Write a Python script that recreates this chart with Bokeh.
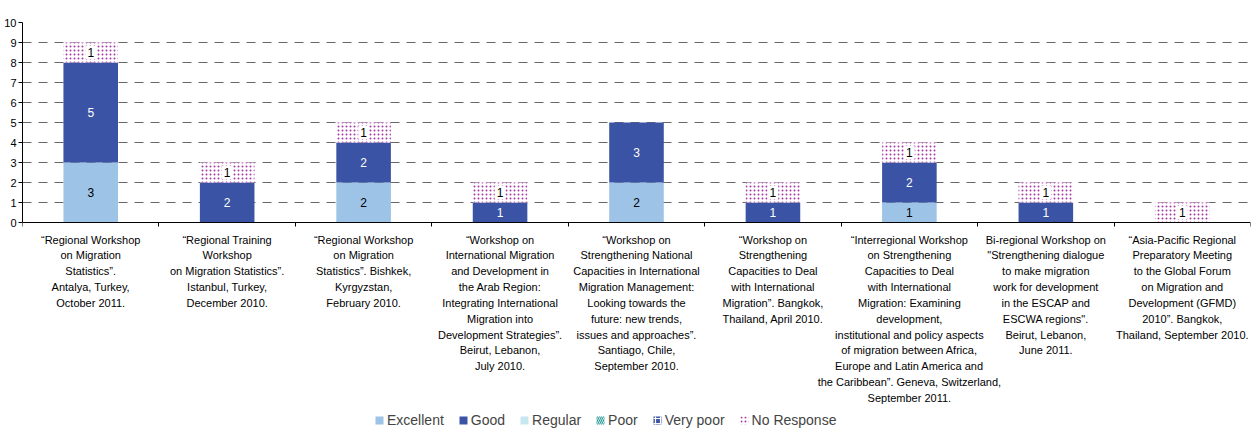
import numpy as np
from bokeh.plotting import figure
from bokeh.models import ColumnDataSource, Range1d, FixedTicker, Legend, LegendItem
from bokeh.core.properties import value
from bokeh.embed import file_html
from bokeh.resources import INLINE

categories = [
    "\u201cRegional Workshop\non Migration\nStatistics\u201d.\nAntalya, Turkey,\nOctober 2011.",
    "\u201cRegional Training\nWorkshop\non Migration Statistics\u201d.\nIstanbul, Turkey,\nDecember 2010.",
    "\u201cRegional Workshop\non Migration\nStatistics\u201d. Bishkek,\nKyrgyzstan,\nFebruary 2010.",
    "\u201cWorkshop on\nInternational Migration\nand Development in\nthe Arab Region:\nIntegrating International\nMigration into\nDevelopment Strategies\u201d.\nBeirut, Lebanon,\nJuly 2010.",
    "\u201cWorkshop on\nStrengthening National\nCapacities in International\nMigration Management:\nLooking towards the\nfuture: new trends,\nissues and approaches\u201d.\nSantiago, Chile,\nSeptember 2010.",
    "\u201cWorkshop on\nStrengthening\nCapacities to Deal\nwith International\nMigration\u201d. Bangkok,\nThailand, April 2010.",
    "\u201cInterregional Workshop\non Strengthening\nCapacities to Deal\nwith International\nMigration: Examining\ndevelopment,\ninstitutional and policy aspects\nof migration between Africa,\nEurope and Latin America and\nthe Caribbean\u201d. Geneva, Switzerland,\nSeptember 2011.",
    "Bi-regional Workshop on\n\"Strengthening dialogue\nto make migration\nwork for development\nin the ESCAP and\nESCWA regions\".\nBeirut, Lebanon,\nJune 2011.",
    "\u201cAsia-Pacific Regional\nPreparatory Meeting\nto the Global Forum\non Migration and\nDevelopment (GFMD)\n2010\u201d. Bangkok,\nThailand, September 2010.",
]
series_names = ["Excellent", "Good", "Regular", "Poor", "Very poor", "No Response"]
excellent = [3, 0, 2, 0, 2, 0, 1, 0, 0]
good = [5, 2, 2, 1, 3, 1, 2, 1, 0]
regular = [0, 0, 0, 0, 0, 0, 0, 0, 0]
poor = [0, 0, 0, 0, 0, 0, 0, 0, 0]
very_poor = [0, 0, 0, 0, 0, 0, 0, 0, 0]
no_response = [1, 1, 1, 1, 0, 1, 1, 1, 1]
y_ticks = [0, 1, 2, 3, 4, 5, 6, 7, 8, 9, 10]

FONT = "Liberation Sans"
n = len(categories)
xs = np.arange(n) + 0.5

styles = [
    dict(fill_color="#9DC3E6", line_color=None),
    dict(fill_color="#3A53A4", line_color=None),
    dict(fill_color="#C6E7F0", line_color=None),
    dict(fill_color="white", line_color=None, hatch_pattern="\\", hatch_color="#2E9A9A", hatch_scale=4, hatch_weight=1.2),
    dict(fill_color="#3A53A4", line_color=None, hatch_pattern="+", hatch_color="white", hatch_scale=5, hatch_weight=1.2),
    dict(fill_color="white", line_color=None, hatch_pattern="dot", hatch_color="#A838A8", hatch_scale=4, hatch_weight=2),
]
text_colors = ["black", "white", "black", "black", "white", "black"]
all_series = [excellent, good, regular, poor, very_poor, no_response]

# frame extends below zero so that the category labels and legend sit inside it
p = figure(frame_width=1228, frame_height=410, x_range=Range1d(0, n), y_range=Range1d(-10.5, 10),
           output_backend="svg", toolbar_location=None,
           min_border_left=22, min_border_right=1, min_border_top=22, min_border_bottom=0)
p.outline_line_color = None
p.background_fill_color = "white"

p.xgrid.visible = False
p.ygrid.ticker = FixedTicker(ticks=y_ticks[1:])
p.ygrid.grid_line_color = "#666666"
p.ygrid.grid_line_dash = "9 7"
p.ygrid.grid_line_width = 1.2

p.yaxis.ticker = FixedTicker(ticks=y_ticks)
p.yaxis.bounds = (0, 10)
p.yaxis.axis_line_color = "black"
p.yaxis.major_tick_line_color = "black"
p.yaxis.major_tick_in = 0
p.yaxis.major_tick_out = 4
p.yaxis.minor_tick_line_color = None
p.yaxis.major_label_text_font = FONT
p.yaxis.major_label_text_font_size = "11px"
p.yaxis.major_label_text_color = "black"
p.yaxis.major_label_standoff = 2

p.xaxis.fixed_location = 0
p.xaxis.ticker = FixedTicker(ticks=list(xs), minor_ticks=list(range(n + 1)))
p.xaxis.major_label_overrides = {float(x): lab for x, lab in zip(xs, categories)}
p.xaxis.axis_line_color = "black"
p.xaxis.major_tick_line_color = None
p.xaxis.minor_tick_line_color = "black"
p.xaxis.minor_tick_in = 0
p.xaxis.minor_tick_out = 4
p.xaxis.major_label_text_font = FONT
p.xaxis.major_label_text_font_size = "11px"
p.xaxis.major_label_text_color = "black"
p.xaxis.major_label_text_line_height = 1.32
p.xaxis.major_label_standoff = 5

bottom = np.zeros(n)
renderers = []
for name, vals, st, tc in zip(series_names, all_series, styles, text_colors):
    vals = np.array(vals, dtype=float)
    top = bottom + vals
    src = ColumnDataSource(dict(x=xs, bottom=bottom.copy(), top=top))
    r = p.vbar(x="x", bottom="bottom", top="top", width=0.4, source=src, **st)
    renderers.append((name, r))
    mask = vals > 0
    tsrc = ColumnDataSource(dict(x=xs[mask], y=(bottom[mask] + top[mask]) / 2,
                                 t=[str(int(v)) for v in vals[mask]]))
    extra = {}
    if name == "No Response":
        extra = dict(background_fill_color="white", padding=2)
    p.text(x="x", y="y", text="t", source=tsrc, text_align="center", text_baseline="middle",
           text_font=value(FONT), text_font_size="12px", text_color=tc, **extra)
    bottom = top

legend = Legend(items=[LegendItem(label=nm, renderers=[r]) for nm, r in renderers],
                orientation="horizontal", location=(352, 4),
                glyph_width=10, glyph_height=10, label_text_font=FONT,
                label_text_font_size="14px", spacing=14, label_standoff=3,
                label_height=10, padding=0, margin=0,
                border_line_color=None, background_fill_alpha=0)
p.add_layout(legend, "center")

open("out.html", "w").write(file_html(p, INLINE))
